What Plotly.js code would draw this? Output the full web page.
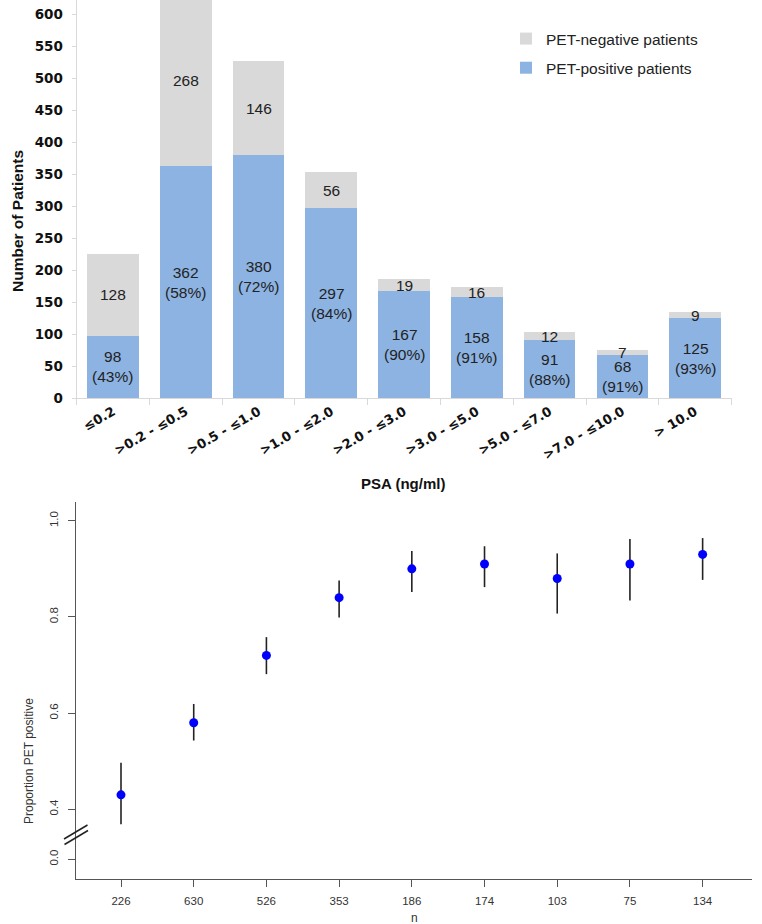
<!DOCTYPE html>
<html>
<head>
<meta charset="utf-8">
<script src="https://cdn.plot.ly/plotly-3.0.1.min.js"></script>
<style>html,body{margin:0;padding:0;background:#fff;} #chart{width:762px;height:924px;}</style>
</head>
<body>
<div id="chart"></div>
<script>
// ---- Top chart data ----
const psaCategories = ["≤0.2", ">0.2 - ≤0.5", ">0.5 - ≤1.0", ">1.0 - ≤2.0", ">2.0 - ≤3.0", ">3.0 - ≤5.0", ">5.0 - ≤7.0", ">7.0 - ≤10.0", "> 10.0"];
const petPositive = [98, 362, 380, 297, 167, 158, 91, 68, 125];
const petNegative = [128, 268, 146, 56, 19, 16, 12, 7, 9];
const positivePct = [43, 58, 72, 84, 90, 91, 88, 91, 93];

// ---- Bottom chart data ----
const nLabels = ["226", "630", "526", "353", "186", "174", "103", "75", "134"];
const proportion = [0.43, 0.58, 0.72, 0.84, 0.90, 0.91, 0.88, 0.91, 0.93];
const ciUpper = [0.497, 0.619, 0.758, 0.876, 0.937, 0.947, 0.932, 0.962, 0.964];
const ciLower = [0.369, 0.543, 0.681, 0.799, 0.852, 0.862, 0.807, 0.834, 0.877];
const bottomYTickText = ["0.0", "0.4", "0.6", "0.8", "1.0"];

const W = 762, H = 924;
const px = x => x / W;
const py = y => 1 - y / H;

const FONT = "Liberation Sans, Arial, sans-serif";
const WIDE = "DejaVu Sans, Liberation Sans, Arial, sans-serif";

const traces = [
  {
    type: 'bar', x: psaCategories, y: petPositive, name: 'PET-positive patients',
    marker: {color: '#8DB3E2', line: {width: 0}}, xaxis: 'x', yaxis: 'y',
    legendgroup: 'pos', legendrank: 2, hoverinfo: 'skip'
  },
  {
    type: 'bar', x: psaCategories, y: petNegative, name: 'PET-negative patients',
    marker: {color: '#D9D9D9', line: {width: 0}}, xaxis: 'x', yaxis: 'y',
    legendgroup: 'neg', legendrank: 1, hoverinfo: 'skip'
  },
  {
    type: 'scatter', mode: 'markers', x: nLabels, y: proportion,
    xaxis: 'x2', yaxis: 'y2', showlegend: false, hoverinfo: 'skip',
    marker: {color: '#0000FF', size: 9},
    error_y: {
      type: 'data', symmetric: false,
      array: ciUpper.map((u, i) => u - proportion[i]),
      arrayminus: proportion.map((p, i) => p - ciLower[i]),
      width: 0, thickness: 1.6, color: '#222'
    }
  }
];

const annotations = [];
psaCategories.forEach((c, i) => {
  annotations.push({
    xref: 'x', yref: 'y', x: c, y: petPositive[i] / 2,
    xanchor: 'center', yanchor: 'middle',
    text: petPositive[i] + '<br>(' + positivePct[i] + '%)', showarrow: false,
    font: {family: FONT, size: 15.5, color: '#222'}
  });
  annotations.push({
    xref: 'x', yref: 'y', x: c, y: petPositive[i] + petNegative[i] / 2,
    xanchor: 'center', yanchor: 'middle',
    text: String(petNegative[i]), showarrow: false,
    font: {family: FONT, size: 15.5, color: '#222'}
  });
});
// axis titles
annotations.push({xref: 'paper', yref: 'paper', x: px(18), y: py(221), xanchor: 'center', yanchor: 'middle',
  text: 'Number of Patients', textangle: -90, showarrow: false,
  font: {family: FONT, size: 15.5, color: '#111', weight: 'bold'}});
annotations.push({xref: 'paper', yref: 'paper', x: px(403), y: py(483), xanchor: 'center', yanchor: 'middle',
  text: 'PSA (ng/ml)', showarrow: false,
  font: {family: FONT, size: 15, color: '#111', weight: 'bold'}});
annotations.push({xref: 'paper', yref: 'paper', x: px(29), y: py(761), xanchor: 'center', yanchor: 'middle',
  text: 'Proportion PET positive', textangle: -90, showarrow: false,
  font: {family: FONT, size: 12, color: '#333'}});
annotations.push({xref: 'paper', yref: 'paper', x: px(414), y: py(918), xanchor: 'center', yanchor: 'middle',
  text: 'n', showarrow: false, font: {family: FONT, size: 12, color: '#333'}});

const shapes = [
  {type: 'line', xref: 'paper', yref: 'paper', x0: px(64), y0: py(839), x1: px(87.5), y1: py(825), line: {color: '#222', width: 1.5}},
  {type: 'line', xref: 'paper', yref: 'paper', x0: px(64.5), y0: py(844.5), x1: px(88), y1: py(830.5), line: {color: '#222', width: 1.5}}
];

const layout = {
  width: W, height: H,
  margin: {l: 0, r: 0, t: 0, b: 0},
  paper_bgcolor: '#fff', plot_bgcolor: '#fff',
  font: {family: FONT, color: '#222'},
  barmode: 'stack', bargap: 0.29,
  showlegend: true,
  legend: {
    x: px(506), y: py(22), xanchor: 'left', yanchor: 'top',
    traceorder: 'grouped', tracegroupgap: 6,
    font: {family: FONT, size: 15.5, color: '#222'},
    bgcolor: 'rgba(0,0,0,0)'
  },
  xaxis: {
    domain: [px(76.6), px(731.6)], anchor: 'y', type: 'category',
    range: [-0.5, 8.5], showgrid: false, zeroline: false,
    showline: true, linecolor: '#D9D9D9', linewidth: 1,
    ticks: 'outside', tickson: 'boundaries', ticklen: 6, tickcolor: '#D9D9D9',
    tickangle: -30, tickfont: {family: WIDE, size: 13, color: '#111', weight: 'bold'}
  },
  yaxis: {
    domain: [py(398.3), 1], anchor: 'x', range: [0, 622],
    tickmode: 'linear', tick0: 0, dtick: 50,
    showgrid: false, zeroline: false,
    showline: true, linecolor: '#D9D9D9', linewidth: 1,
    ticks: 'outside', ticklen: 4, tickcolor: '#D9D9D9', ticklabelstandoff: 6,
    tickfont: {family: WIDE, size: 13.5, color: '#111', weight: 'bold'}
  },
  xaxis2: {
    domain: [px(76), px(752)], anchor: 'y2', type: 'category',
    range: [-0.619, 8.679], showgrid: false, zeroline: false,
    showline: true, linecolor: '#555', linewidth: 1,
    ticks: 'outside', ticklen: 7, tickcolor: '#555', ticklabelstandoff: 4,
    tickfont: {family: FONT, size: 11.5, color: '#333'}
  },
  yaxis2: {
    domain: [py(879), py(502)], anchor: 'x2', range: [0.255, 1.039],
    tickmode: 'array', tickvals: [0.296, 0.4, 0.6, 0.8, 1.0], ticktext: bottomYTickText,
    showgrid: false, zeroline: false,
    showline: true, linecolor: '#555', linewidth: 1,
    ticks: 'outside', ticklen: 7, tickcolor: '#555', tickangle: -90, ticklabelstandoff: 5,
    tickfont: {family: FONT, size: 11.5, color: '#333'}
  },
  annotations: annotations,
  shapes: shapes
};

Plotly.newPlot('chart', traces, layout, {staticPlot: true, displayModeBar: false});
</script>
</body>
</html>
